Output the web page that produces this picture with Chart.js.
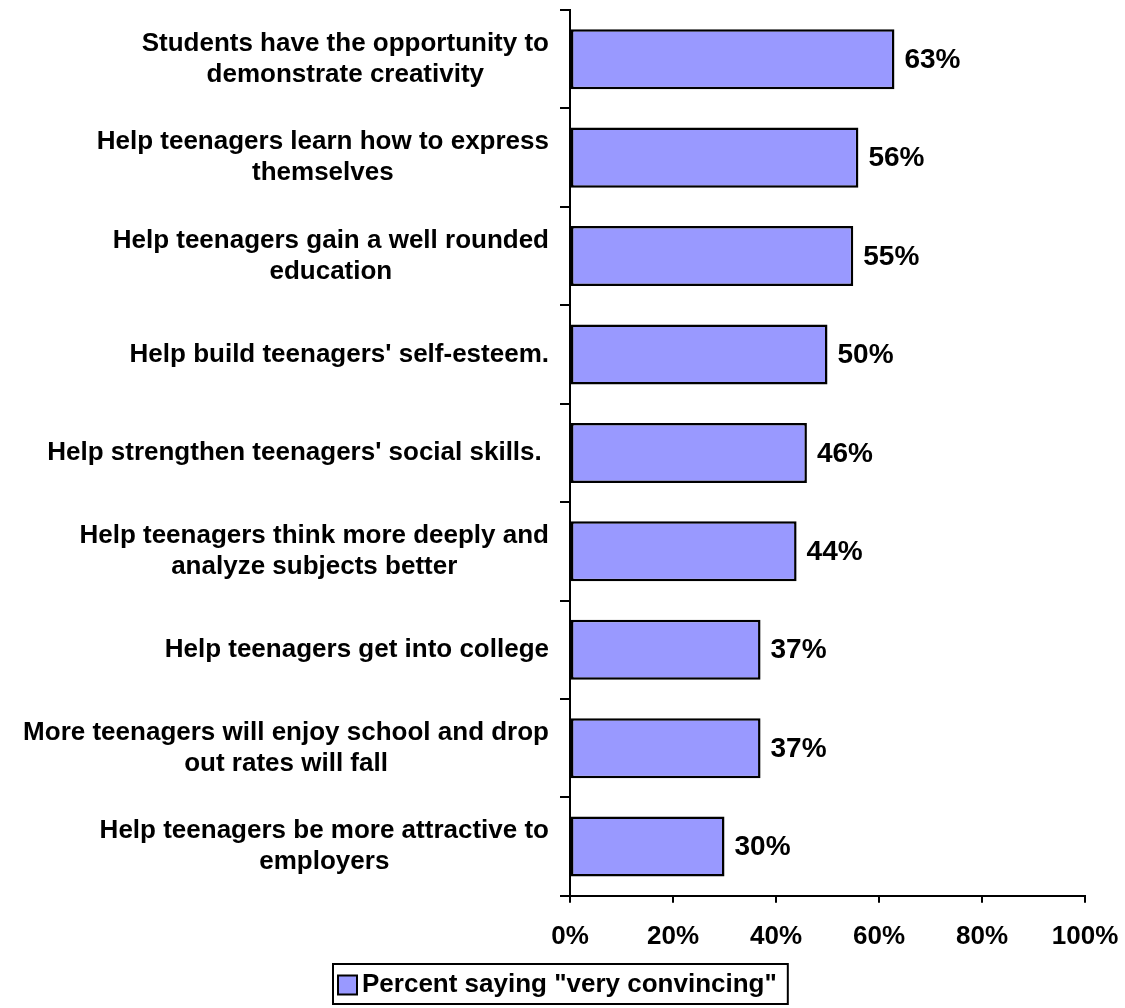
<!DOCTYPE html>
<html>
<head>
<meta charset="utf-8">
<title>Arts education arguments</title>
<script src="https://cdn.jsdelivr.net/npm/chart.js@4.4.1/dist/chart.umd.min.js"></script>
<style>
  html, body { margin: 0; padding: 0; background: #fff; }
  #wrap { width: 1125px; height: 1008px; }
</style>
</head>
<body>
<div id="wrap"><canvas id="bars"></canvas></div>
<script>
// categories (each entry = lines of the label), top to bottom
const categories = [
  ["Students have the opportunity to", "demonstrate creativity"],
  ["Help teenagers learn how to express", "themselves"],
  ["Help teenagers gain a well rounded", "education"],
  ["Help build teenagers' self-esteem."],
  ["Help strengthen teenagers' social skills. "],
  ["Help teenagers think more deeply and", "analyze subjects better"],
  ["Help teenagers get into college"],
  ["More teenagers will enjoy school and drop", "out rates will fall"],
  ["Help teenagers be more attractive to", "employers"]
];
const veryConvincing = [63, 56, 55, 50, 46, 44, 37, 37, 30];
const xTicks = [0, 20, 40, 60, 80, 100];
const seriesName = 'Percent saying "very convincing"';

const FONT = '"Liberation Sans", Arial, Helvetica, sans-serif';
const barFill = '#9999FF';

Chart.defaults.font.family = FONT;
Chart.defaults.color = '#000';

// left-hand labels: block right aligned, lines centred inside the block
const categoryLabels = {
  id: 'categoryLabels',
  afterDraw(chart) {
    const {ctx} = chart;
    const y = chart.scales.y;
    ctx.save();
    ctx.font = 'bold 26px ' + FONT;
    ctx.fillStyle = '#000';
    ctx.textAlign = 'center';
    ctx.textBaseline = 'middle';
    const right = y.left - 11;
    categories.forEach((lines, i) => {
      const cy = y.getPixelForValue(i);
      const w = Math.max(...lines.map(l => ctx.measureText(l).width));
      const cx = right - w / 2;
      lines.forEach((line, k) => {
        ctx.fillText(line, cx, cy + (k - (lines.length - 1) / 2) * 31);
      });
    });
    ctx.restore();
  }
};

// percentage at the end of each bar
const valueLabels = {
  id: 'valueLabels',
  afterDatasetsDraw(chart) {
    const {ctx} = chart;
    const meta = chart.getDatasetMeta(0);
    ctx.save();
    ctx.font = 'bold 28px ' + FONT;
    ctx.fillStyle = '#000';
    ctx.textAlign = 'left';
    ctx.textBaseline = 'middle';
    meta.data.forEach((bar, i) => {
      ctx.fillText(veryConvincing[i] + '%', bar.x + 10, bar.y + 1);
    });
    ctx.restore();
  }
};

// framed legend under the axis
const framedLegend = {
  id: 'framedLegend',
  afterDraw(chart) {
    const {ctx} = chart;
    ctx.save();
    ctx.font = 'bold 26px ' + FONT;
    const tw = ctx.measureText(seriesName).width;
    const box = 19, gap = 5, pad = 5;
    const w = pad + box + gap + tw + pad + 6;
    const left = Math.round(560 - w / 2);
    const top = 964, h = 40;
    ctx.lineWidth = 2;
    ctx.strokeStyle = '#000';
    ctx.strokeRect(left, top, w, h);
    const by = top + (h - box) / 2 + 1;
    ctx.fillStyle = barFill;
    ctx.fillRect(left + pad, by, box, box);
    ctx.strokeRect(left + pad, by, box, box);
    ctx.fillStyle = '#000';
    ctx.textAlign = 'left';
    ctx.textBaseline = 'middle';
    ctx.fillText(seriesName, left + pad + box + gap, top + h / 2 + 1);
    ctx.restore();
  }
};

new Chart(document.getElementById('bars'), {
  type: 'bar',
  data: {
    labels: categories.map(l => l.join(' ')),
    datasets: [{
      label: seriesName,
      data: veryConvincing,
      backgroundColor: barFill,
      borderColor: '#000',
      borderWidth: 2.5,
      borderSkipped: false,
      barPercentage: 0.61,
      categoryPercentage: 1
    }]
  },
  options: {
    indexAxis: 'y',
    responsive: true,
    maintainAspectRatio: false,
    animation: false,
    devicePixelRatio: 1,
    layout: { padding: { top: 10, left: 560, right: 40, bottom: 38 } },
    plugins: {
      legend: { display: false },
      tooltip: { enabled: false }
    },
    scales: {
      y: {
        offset: true,
        grid: {
          offset: true,
          drawOnChartArea: false,
          drawTicks: true,
          tickLength: 10,
          color: '#000',
          lineWidth: 2
        },
        border: { display: true, color: '#000', width: 2 },
        ticks: { display: false }
      },
      x: {
        min: 0,
        max: 100,
        afterBuildTicks: s => { s.ticks = xTicks.map(v => ({ value: v })); },
        // the end labels may hang past the plot, the right padding covers it
        afterFit: s => { s.paddingLeft = 0; s.paddingRight = 0; },
        grid: {
          drawOnChartArea: false,
          drawTicks: true,
          tickLength: 7,
          color: '#000',
          lineWidth: 2
        },
        border: { display: true, color: '#000', width: 2 },
        ticks: {
          padding: 18,
          color: '#000',
          font: { size: 26, weight: 'bold' },
          maxRotation: 0,
          callback: v => v + '%'
        }
      }
    }
  },
  plugins: [categoryLabels, valueLabels, framedLegend]
});
</script>
</body>
</html>
